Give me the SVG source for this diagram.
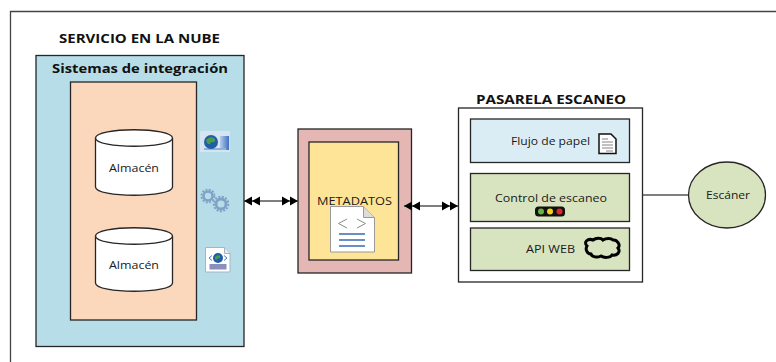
<svg xmlns="http://www.w3.org/2000/svg" width="776" height="362" viewBox="0 0 776 362">
<defs>
<linearGradient id="bar" x1="0" x2="1" y1="0" y2="0"><stop offset="0" stop-color="#b8cdea"/><stop offset="1" stop-color="#3f6fc4"/></linearGradient>
</defs>
<style>
text{font-family:"Open Sans","Noto Sans",sans-serif;fill:#1a1a1a;text-anchor:start}
.b{stroke:#262626;stroke-width:1.3}
.lbl{font-size:11.5px}
.hd{font-size:12.5px;font-weight:700;fill:#111}
.cyl{fill:#fff;stroke:#262626;stroke-width:1.3}
.conn{stroke:#555;stroke-width:1.5;fill:none}
.ah{fill:#000}
.gear{fill:none;stroke:#7ea3c6}
</style>
<g id="frame"><path d="M10.5 362V11.5H776" fill="none" stroke="#444" stroke-width="1.3"/></g>
<g id="servicio-title"><text class="hd" x="59" y="43" textLength="161" lengthAdjust="spacingAndGlyphs">SERVICIO EN LA NUBE</text></g>
<g id="sistemas">
<rect class="b" x="36" y="55.5" width="208" height="291" fill="#b7dde8"/>
<text class="hd" x="52" y="73" textLength="176" lengthAdjust="spacingAndGlyphs" style="font-size:13px">Sistemas de integración</text>
<rect class="b" x="70.5" y="82" width="126" height="238" fill="#fbd8bc"/>
</g>
<g id="almacen-1">
<path class="cyl" d="M95.500 138c0-11 77-11 77 0v49c0 11-77 11-77 0z"/>
<path class="cyl" fill="none" d="M95.500 138c0 11 77 11 77 0"/>
<text class="lbl" x="109" y="172" textLength="50" lengthAdjust="spacingAndGlyphs">Almacén</text>
</g>
<g id="almacen-2">
<path class="cyl" d="M95.500 236c0-11 77-11 77 0v47c0 11-77 11-77 0z"/>
<path class="cyl" fill="none" d="M95.500 236c0 11 77 11 77 0"/>
<text class="lbl" x="109" y="269" textLength="50" lengthAdjust="spacingAndGlyphs">Almacén</text>
</g>
<g id="icon-window">
<rect x="200" y="131" width="30" height="21" fill="#d5e4ef"/>
<rect x="220" y="136" width="9" height="14" fill="url(#bar)"/>
<rect x="204" y="148" width="22" height="2" fill="#8fb0dc"/>
<circle cx="211" cy="142" r="7" fill="#1f5fa8"/>
<path d="M206 140q5-5 9-1q1 4-4 3q-1 4-4 1z" fill="#4d9b4a"/>
</g>
<g id="icon-gears">
<circle class="gear" cx="208" cy="196" r="4.500" stroke-width="2.500"/>
<circle class="gear" cx="208" cy="196" r="6.500" stroke-width="1.800" stroke-dasharray="2 1.400"/>
<circle class="gear" cx="221" cy="204" r="5" stroke-width="2.800"/>
<circle class="gear" cx="221" cy="204" r="7.300" stroke-width="2" stroke-dasharray="2 1.500"/>
</g>
<g id="icon-webdoc">
<path d="M205.500 247.500h19l5.500 6v18.500h-24.500z" fill="#fff" stroke="#a8b4c4" stroke-width="1"/>
<path d="M224.500 247.500v6h5.500" fill="#e4e9ef" stroke="#a8b4c4" stroke-width="1"/>
<circle cx="218" cy="258" r="5" fill="#1f5fa8"/>
<path d="M215 257q3-3 5-1q1 3-2 2q-1 3-3 1z" fill="#4d9b4a"/>
<path d="M212 255.500l-3 2.500 3 2.500M224 255.500l3 2.500-3 2.500" fill="none" stroke="#3f7fc4" stroke-width="1"/>
<rect x="209.500" y="264" width="17" height="5.500" fill="#8b8fc0"/>
</g>
<g id="metadatos">
<rect class="b" x="298" y="129" width="113.500" height="144" fill="#e4b6b4"/>
<rect class="b" x="309" y="142" width="89.500" height="118" fill="#fee497"/>
<text class="lbl" x="317" y="205" textLength="75" lengthAdjust="spacingAndGlyphs">METADATOS</text>
<path d="M330.500 206.500h33l11 11v34.500h-44z" fill="#fff" stroke="#9a9a9a" stroke-width="1"/>
<path d="M363.500 206.500v11h11" fill="#dcdcdc" stroke="#9a9a9a" stroke-width="1"/>
<path d="M347 219l-8.500 4.500 8.500 4.500M357 219l8.500 4.500-8.500 4.500" fill="none" stroke="#8c8c8c" stroke-width="1"/>
<path d="M339 234h26M339 240h26M339 246h26" stroke="#6a8fc8" stroke-width="2"/>
</g>
<g id="pasarela">
<text class="hd" x="476" y="104" textLength="150" lengthAdjust="spacingAndGlyphs">PASARELA ESCANEO</text>
<rect class="b" x="458.500" y="108" width="184" height="174" fill="#fff"/>
</g>
<g id="flujo">
<rect class="b" x="470.500" y="119" width="159" height="43.500" fill="#dbedf4"/>
<text class="lbl" x="511" y="145" textLength="79" lengthAdjust="spacingAndGlyphs">Flujo de papel</text>
<path d="M599 134h12l5 5v14.500h-17z" fill="#fff" stroke="#111" stroke-width="1.500"/>
<path d="M602 139h6M602 142h11M602 145h11M602 148h11M606 151h7" stroke="#666" stroke-width=".8"/>
</g>
<g id="control">
<rect class="b" x="470.500" y="173.500" width="159" height="48" fill="#d8e3bf"/>
<text class="lbl" x="495" y="202" textLength="112" lengthAdjust="spacingAndGlyphs">Control de escaneo</text>
<rect x="535" y="206.500" width="30" height="10" rx="3.500" fill="#111"/>
<circle cx="541" cy="211.500" r="3" fill="#6ab43c"/>
<circle cx="550" cy="211.500" r="3" fill="#f2d21f"/>
<circle cx="559.500" cy="211.500" r="3" fill="#e0262a"/>
</g>
<g id="api">
<rect class="b" x="470.500" y="228" width="159" height="42.500" fill="#d8e3bf"/>
<text class="lbl" x="526" y="253" textLength="49" lengthAdjust="spacingAndGlyphs">API WEB</text>
<path d="M587 246c-4-4 1-8 6-6 3-2.500 8-2.500 10 0 3-2 8-2 10 0 4-.5 8 5 5 8 3 4-1 8-6 7-2 3-8 3-11 1-4 2-9 1-10-2-4 0-6-5-4-8z" fill="none" stroke="#000" stroke-width="3"/>
</g>
<g id="escaner">
<ellipse cx="727" cy="195" rx="38.500" ry="33" fill="#d8e3bf" stroke="#262626" stroke-width="1.300"/>
<text class="lbl" x="706" y="199" textLength="44" lengthAdjust="spacingAndGlyphs">Escáner</text>
</g>
<g id="connectors">
<path class="conn" d="M244 201H298"/>
<path class="ah" d="M244 201l8-4.500v9zM252 201l8-4.500v9zM298 201l-8-4.500v9zM290 201l-8-4.500v9z"/>
<path class="conn" d="M404 206H458"/>
<path class="ah" d="M404 206l8-4.500v9zM412 206l8-4.500v9zM458 206l-8-4.500v9zM450 206l-8-4.500v9z"/>
<path class="conn" d="M643 195H688"/>
</g>
</svg>
